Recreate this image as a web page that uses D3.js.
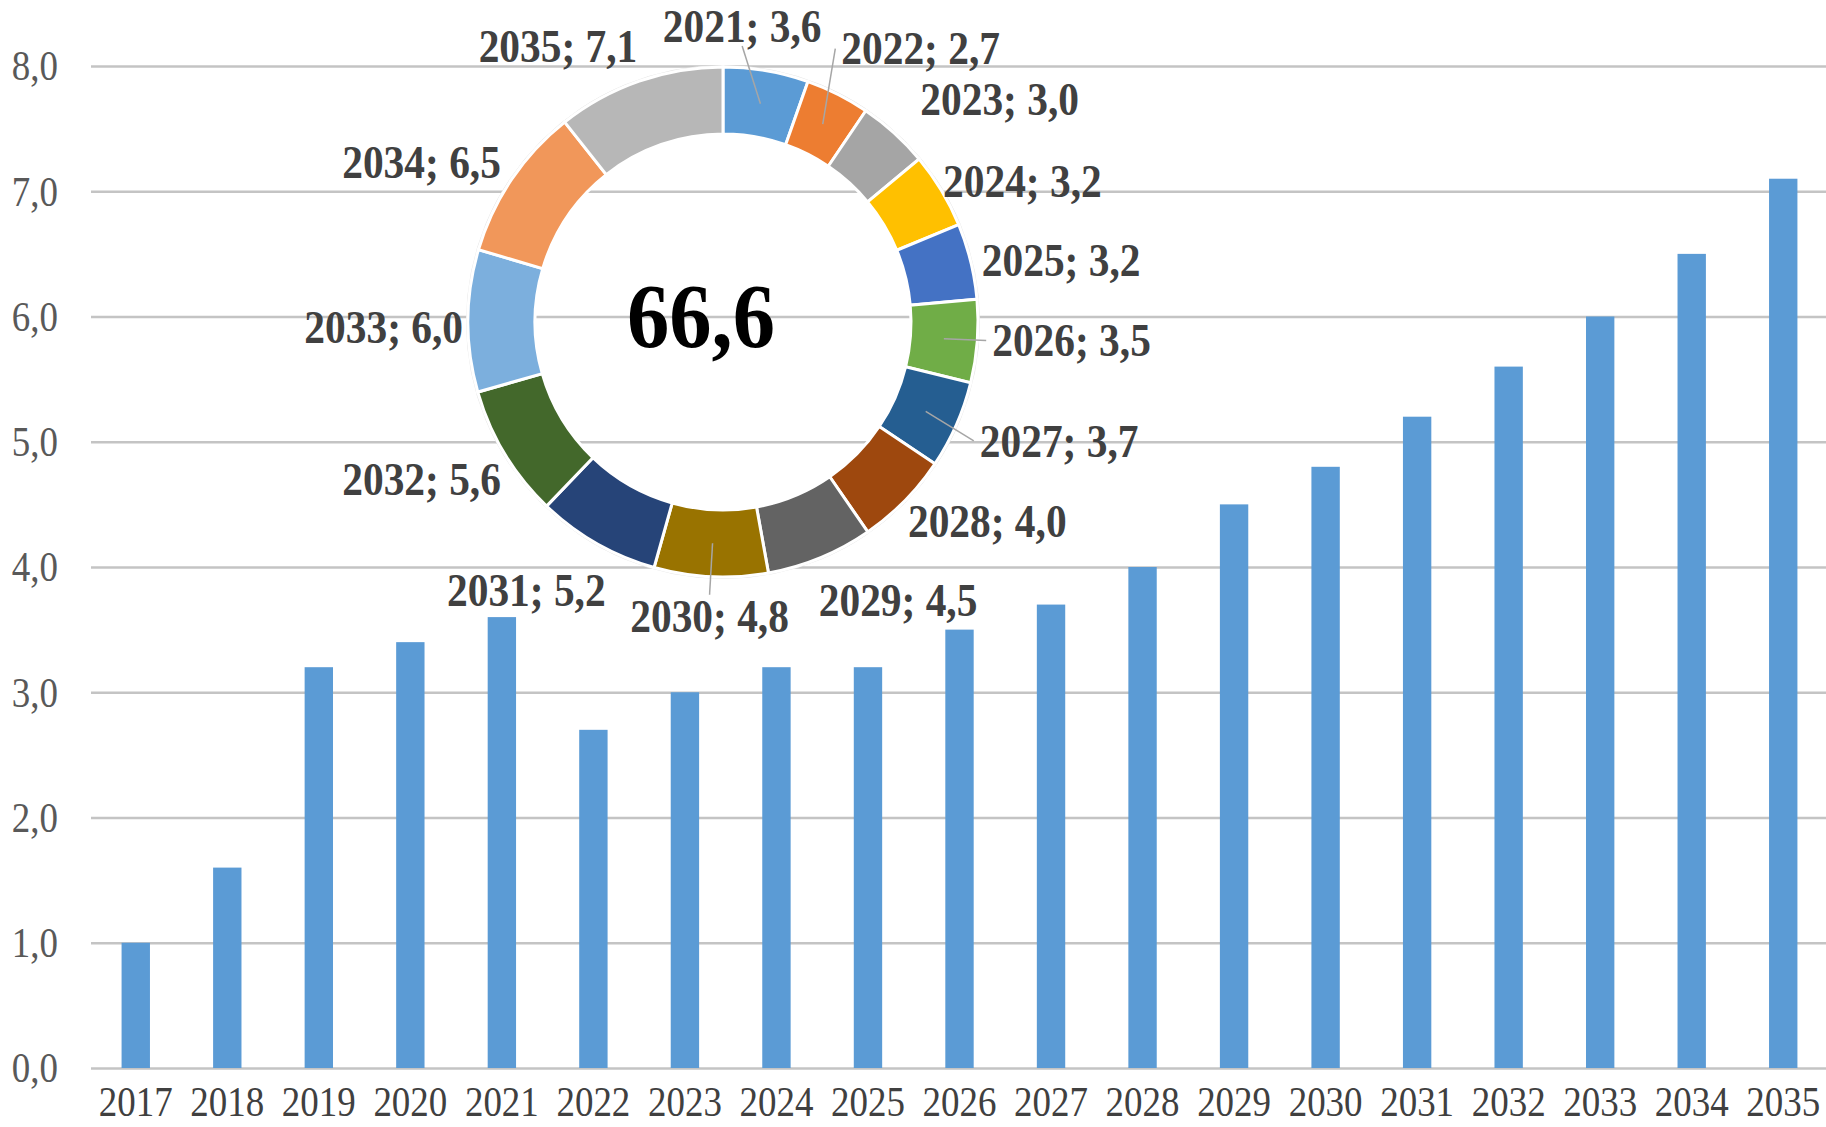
<!DOCTYPE html>
<html>
<head>
<meta charset="utf-8">
<script src="https://cdn.jsdelivr.net/npm/d3@7"></script>
<style>
  html, body { margin: 0; padding: 0; background: #fff; }
  svg { display: block; }
  text { font-family: "Liberation Serif", "Times New Roman", serif; }
</style>
</head>
<body>
<svg id="chart" width="1826" height="1127"></svg>
<script>
// bars: yearly values
var years = ['2017', '2018', '2019', '2020', '2021', '2022', '2023', '2024', '2025', '2026',
             '2027', '2028', '2029', '2030', '2031', '2032', '2033', '2034', '2035'];
var values = [1.0, 1.6, 3.2, 3.4, 3.6, 2.7, 3.0, 3.2, 3.2, 3.5,
              3.7, 4.0, 4.5, 4.8, 5.2, 5.6, 6.0, 6.5, 7.1];
var yTicks = [0, 1, 2, 3, 4, 5, 6, 7, 8];

// donut: 2021..2035 share of the total
var ringYears = ['2021', '2022', '2023', '2024', '2025', '2026', '2027', '2028',
                 '2029', '2030', '2031', '2032', '2033', '2034', '2035'];
var ringValues = [3.6, 2.7, 3.0, 3.2, 3.2, 3.5, 3.7, 4.0, 4.5, 4.8, 5.2, 5.6, 6.0, 6.5, 7.1];
var ringColors = ['#5b9bd5', '#ed7d31', '#a5a5a5', '#ffc000', '#4472c4', '#70ad47',
                  '#255e91', '#9e480e', '#636363', '#997300', '#264478', '#43682b',
                  '#7cafdd', '#f1975a', '#b7b7b7'];

// label fine-tuning (Excel moved some labels by hand), and which ones get a leader line
var labelShift = {
    '2021': [-29, -15], '2022': [-10, -19], '2023': [6, -12], '2024': [-24, 6],
    '2025': [-18, 6], '2026': [-15, -3], '2027': [-4, 4], '2028': [-18, -1],
    '2029': [-13, 15], '2030': [0, 10], '2031': [24, 21], '2032': [22, 10],
    '2033': [25, 7], '2034': [14, 0], '2035': [8, -7]
};
var leaderYears = ['2021', '2022', '2026', '2027', '2030'];

var W = 1826, H = 1127;
var PLOT_LEFT = 91, PLOT_TOP = 66, PLOT_BOTTOM = 1068;
var comma = function(v) { return d3.format('.1f')(v).replace('.', ','); };

var svg = d3.select('#chart');

var x = d3.scaleBand()
    .domain(years)
    .range([90, 1829])
    .paddingInner(0.69)
    .paddingOuter(0.345);

var y = d3.scaleLinear()
    .domain([0, 8])
    .range([PLOT_BOTTOM, PLOT_TOP]);

// Horizontal gridlines + y labels
var gY = svg.append('g')
    .attr('transform', 'translate(' + PLOT_LEFT + ',0)')
    .call(d3.axisLeft(y)
        .tickValues(yTicks)
        .tickFormat(comma)
        .tickSizeInner(-(W - PLOT_LEFT))
        .tickSizeOuter(0));
gY.select('.domain').remove();
gY.selectAll('.tick line')
    .style('stroke', '#c4c4c4')
    .style('stroke-width', 2.5);
gY.selectAll('.tick text')
    .attr('x', null)
    .attr('dy', null)
    .attr('dominant-baseline', 'central')
    .attr('text-anchor', 'end')
    .attr('transform', 'translate(-33,0) scale(0.88,1)')
    .style('font-size', '42px')
    .style('fill', '#595959');

// Bars
svg.append('g')
    .selectAll('rect')
    .data(values)
    .enter()
    .append('rect')
    .attr('x', function(d, i) { return x(years[i]); })
    .attr('width', x.bandwidth())
    .attr('y', function(d) { return y(d); })
    .attr('height', function(d) { return y(0) - y(d); })
    .style('fill', '#5b9bd5');

// X labels
var gX = svg.append('g')
    .attr('transform', 'translate(0,' + PLOT_BOTTOM + ')')
    .call(d3.axisBottom(x).tickSize(0));
gX.select('.domain').remove();
gX.selectAll('.tick text')
    .attr('y', null)
    .attr('dy', null)
    .attr('transform', 'translate(0,48) scale(0.88,1)')
    .style('font-size', '42px')
    .style('fill', '#404040');

// Donut
var CX = 723, CY = 322, R_OUT = 255, R_IN = 188, R_LABEL = 285;
var pie = d3.pie().sort(null).value(function(d) { return d; });
var arcs = pie(ringValues);
var arc = d3.arc().innerRadius(R_IN).outerRadius(R_OUT);
var mid = d3.arc().innerRadius((R_IN + R_OUT) / 2).outerRadius((R_IN + R_OUT) / 2);

var gRing = svg.append('g')
    .attr('transform', 'translate(' + CX + ',' + CY + ')');

gRing.append('circle')
    .attr('r', R_OUT + 1.5)
    .style('fill', 'none')
    .style('stroke', '#e6e6e6')
    .style('stroke-width', 1);

gRing.selectAll('path.slice')
    .data(arcs)
    .enter()
    .append('path')
    .attr('class', 'slice')
    .attr('d', arc)
    .style('fill', function(d, i) { return ringColors[i]; })
    .style('stroke', '#fff')
    .style('stroke-width', 3);

// Label placement from the slice angle
var labels = arcs.map(function(d, i) {
    var a = (d.startAngle + d.endAngle) / 2;
    var s = Math.sin(a), c = Math.cos(a);
    var shift = labelShift[ringYears[i]] || [0, 0];
    return {
        year: ringYears[i],
        text: ringYears[i] + '; ' + comma(ringValues[i]),
        anchor: s > 0.3 ? 'start' : (s < -0.3 ? 'end' : 'middle'),
        x: R_LABEL * s + shift[0],
        y: -R_LABEL * c + shift[1],
        from: mid.centroid(d),
        cosA: c
    };
});

// Leader lines
gRing.selectAll('line.leader')
    .data(labels.filter(function(l) { return leaderYears.indexOf(l.year) >= 0; }))
    .enter()
    .append('line')
    .attr('class', 'leader')
    .attr('x1', function(l) { return l.from[0]; })
    .attr('y1', function(l) { return l.from[1]; })
    .attr('x2', function(l) {
        if (l.anchor === 'start') return l.x - 6;
        if (l.anchor === 'end') return l.x + 6;
        return l.x;
    })
    .attr('y2', function(l) {
        if (l.anchor !== 'middle') return l.y;
        return l.cosA > 0 ? l.y + 20 : l.y - 22;
    })
    .style('stroke', '#a6a6a6')
    .style('stroke-width', 1.5);

gRing.selectAll('text.ringLabel')
    .data(labels)
    .enter()
    .append('text')
    .attr('class', 'ringLabel')
    .attr('transform', function(l) { return 'translate(' + l.x + ',' + l.y + ') scale(0.9,1)'; })
    .attr('text-anchor', function(l) { return l.anchor; })
    .attr('dominant-baseline', 'central')
    .style('font-size', '46px')
    .style('font-weight', 'bold')
    .style('fill', '#404040')
    .text(function(l) { return l.text; });

// Total in the hole
gRing.append('text')
    .attr('transform', 'translate(-22,-6) scale(0.92,1)')
    .attr('text-anchor', 'middle')
    .attr('dominant-baseline', 'central')
    .style('font-size', '92px')
    .style('font-weight', 'bold')
    .style('fill', '#000')
    .text(comma(d3.sum(ringValues)));
</script>
</body>
</html>
